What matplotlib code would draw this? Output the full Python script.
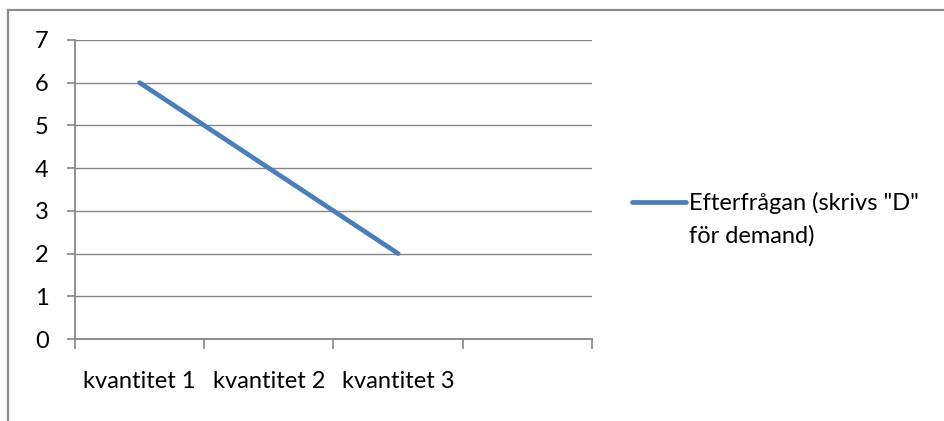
import matplotlib.pyplot as plt
from matplotlib.lines import Line2D

# data
categories = ["kvantitet 1", "kvantitet 2", "kvantitet 3"]
demand = [6, 4, 2]
n_slots = 4  # the category axis has one empty slot at the end
series_label = 'Efterfrågan (skrivs "D"\nför demand)'

plt.rcParams['font.family'] = ['Lato', 'DejaVu Sans']
grey = '#868686'
blue = '#4A7EBB'
fs = 17

fig = plt.figure(figsize=(9.45, 4.21), dpi=100)
ax = fig.add_axes([75/945, 1 - 339/421, (592-75)/945, (339-40)/421])

xs = [i + 0.5 for i in range(len(demand))]
ax.plot(xs, demand, color=blue, lw=3.4, solid_capstyle='round')

ax.set_xlim(0, n_slots)
ax.set_ylim(0, 7)
ax.set_yticks(range(0, 8))
ax.yaxis.grid(True, color=grey, lw=1.0)
ax.set_axisbelow(True)

# category boundaries get the ticks, labels sit in the middle
ax.set_xticks(range(0, n_slots + 1))
ax.set_xticklabels([])
ax.set_xticks(xs, minor=True)
ax.set_xticklabels(categories, minor=True)
ax.tick_params(axis='x', which='major', direction='out', length=7, width=1.2, color=grey)
ax.tick_params(axis='x', which='minor', length=0, pad=23, labelsize=fs)
ax.tick_params(axis='y', direction='out', length=6, width=1.2, color=grey, pad=13, labelsize=fs)

for s in ['top', 'right']:
    ax.spines[s].set_visible(False)
for s in ['left', 'bottom']:
    ax.spines[s].set_color(grey)
    ax.spines[s].set_linewidth(1.3)

# legend, drawn by hand so the line sits on the first text line
fig.add_artist(Line2D([632/945, 686/945], [1 - 202/421] * 2, color=blue, lw=3.4,
                      solid_capstyle='round'))
for i, line in enumerate(series_label.split('\n')):
    fig.text(689/945, 1 - (210 + 33*i)/421, line, fontsize=fs, va='baseline', ha='left')

# chart frame (only top and left visible in the reference)
fig.add_artist(Line2D([8/945, 1], [1 - 9.5/421] * 2, color='#8a8a8a', lw=1.6))
fig.add_artist(Line2D([8/945] * 2, [0, 1 - 9.5/421], color='#8a8a8a', lw=1.6))

fig.savefig('out.png', dpi=100)
